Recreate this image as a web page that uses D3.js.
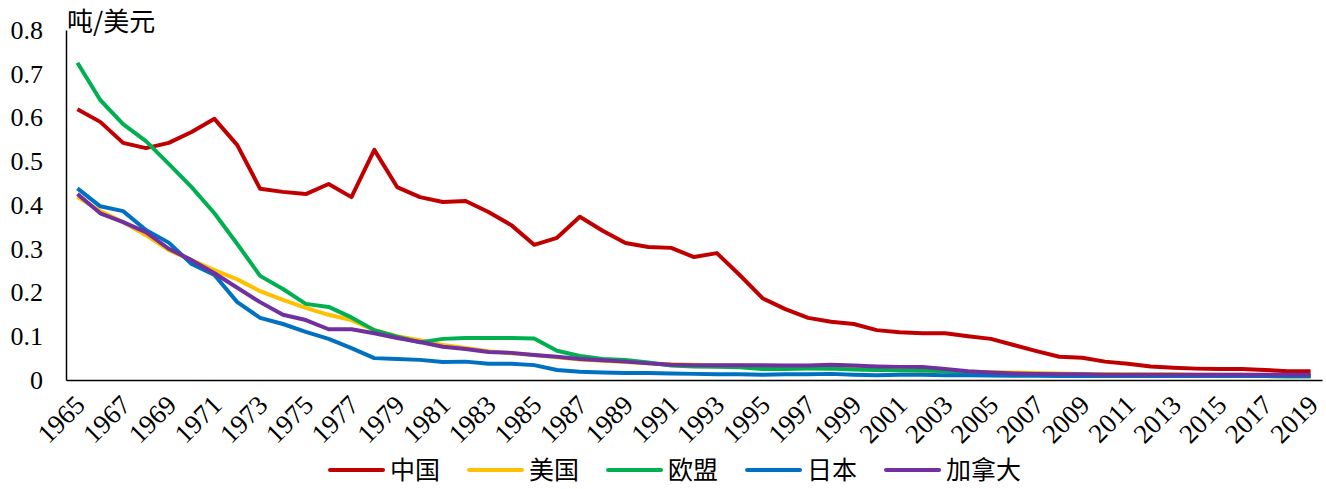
<!DOCTYPE html>
<html>
<head>
<meta charset="utf-8">
<script src="https://cdn.jsdelivr.net/npm/d3@7"></script>
<style>
  body { margin: 0; background: #fff; }
  .canvas svg { display: block; }
</style>
</head>
<body>
<div class="canvas"></div>
<script>
// data (吨/美元), 1965-2019
const years = d3.range(1965, 2020);
const yTicks = [0, 0.1, 0.2, 0.3, 0.4, 0.5, 0.6, 0.7, 0.8];
const seriesNames = ['中国', '美国', '欧盟', '日本', '加拿大'];

const china = [0.619, 0.59, 0.542, 0.53, 0.542, 0.567, 0.597, 0.537, 0.437, 0.43,
  0.425, 0.448, 0.418, 0.526, 0.441, 0.418, 0.407, 0.409, 0.384, 0.354,
  0.309, 0.325, 0.373, 0.341, 0.313, 0.304, 0.302, 0.281, 0.29, 0.24,
  0.187, 0.162, 0.142, 0.133, 0.128, 0.114, 0.109, 0.107, 0.107, 0.1,
  0.094, 0.08, 0.066, 0.053, 0.051, 0.042, 0.037, 0.031, 0.028, 0.026,
  0.025, 0.025, 0.023, 0.02, 0.02];
const usa = [0.419, 0.386, 0.361, 0.331, 0.297, 0.274, 0.251, 0.23, 0.203, 0.183,
  0.165, 0.149, 0.137, 0.114, 0.1, 0.091, 0.08, 0.073, 0.066, 0.061,
  0.057, 0.052, 0.047, 0.044, 0.041, 0.038, 0.036, 0.035, 0.034, 0.033,
  0.031, 0.03, 0.029, 0.028, 0.026, 0.024, 0.022, 0.021, 0.02, 0.019,
  0.018, 0.017, 0.016, 0.015, 0.014, 0.014, 0.013, 0.013, 0.013, 0.012,
  0.012, 0.012, 0.011, 0.011, 0.011];
const eu = [0.725, 0.64, 0.585, 0.546, 0.494, 0.441, 0.381, 0.311, 0.238, 0.208,
  0.174, 0.167, 0.143, 0.114, 0.099, 0.086, 0.094, 0.096, 0.096, 0.096,
  0.095, 0.067, 0.055, 0.048, 0.046, 0.04, 0.033, 0.031, 0.03, 0.029,
  0.025, 0.025, 0.026, 0.026, 0.024, 0.023, 0.022, 0.022, 0.02, 0.016,
  0.015, 0.014, 0.013, 0.012, 0.012, 0.011, 0.01, 0.01, 0.01, 0.009,
  0.009, 0.009, 0.009, 0.008, 0.008];
const japan = [0.438, 0.397, 0.386, 0.343, 0.314, 0.265, 0.24, 0.178, 0.142, 0.128,
  0.11, 0.094, 0.073, 0.05, 0.048, 0.046, 0.041, 0.042, 0.037, 0.037,
  0.034, 0.023, 0.019, 0.017, 0.016, 0.016, 0.015, 0.014, 0.013, 0.013,
  0.012, 0.013, 0.013, 0.014, 0.012, 0.011, 0.012, 0.012, 0.011, 0.011,
  0.01, 0.01, 0.01, 0.009, 0.009, 0.009, 0.009, 0.009, 0.009, 0.009,
  0.009, 0.009, 0.009, 0.009, 0.009];
const canada = [0.425, 0.381, 0.361, 0.338, 0.3, 0.274, 0.244, 0.211, 0.178, 0.149,
  0.137, 0.116, 0.116, 0.107, 0.096, 0.087, 0.076, 0.071, 0.064, 0.062,
  0.057, 0.053, 0.048, 0.045, 0.042, 0.038, 0.035, 0.034, 0.034, 0.034,
  0.034, 0.033, 0.033, 0.035, 0.033, 0.031, 0.03, 0.03, 0.025, 0.02,
  0.017, 0.015, 0.014, 0.013, 0.013, 0.012, 0.012, 0.012, 0.012, 0.012,
  0.012, 0.012, 0.012, 0.012, 0.012];

const seriesValues = [china, usa, eu, japan, canada];
const colors = ['#C00000', '#FFC000', '#00B050', '#0070C0', '#7030A0'];

const width = 1326;
const height = 489;
const margin = { top: 30, right: 4, bottom: 109, left: 66 };

const svg = d3.select('.canvas')
    .append('svg')
    .attr('width', width)
    .attr('height', height);

// scales
const x = d3.scalePoint()
    .domain(years)
    .range([margin.left, width - margin.right])
    .padding(0.5);
const y = d3.scaleLinear()
    .domain([0, 0.8])
    .range([height - margin.bottom, margin.top]);

// y axis
const yAxis = d3.axisLeft(y)
    .tickValues(yTicks)
    .tickSize(0)
    .tickSizeOuter(0)
    .tickPadding(23)
    .tickFormat(d => d === 0 ? '0' : d3.format('.1f')(d));

const yAxisGroup = svg.append('g')
    .attr('transform', `translate(${margin.left},0)`)
    .call(yAxis);
yAxisGroup.select('.domain').attr('stroke', '#000').attr('stroke-width', 1.5);
yAxisGroup.selectAll('text')
    .attr('font-family', '"Liberation Serif", "Times New Roman", serif')
    .attr('font-size', 26)
    .attr('fill', '#000');

// x axis
const xAxis = d3.axisBottom(x)
    .tickValues(years.filter(d => (d - 1965) % 2 === 0))
    .tickSize(0)
    .tickSizeOuter(0);

const xAxisGroup = svg.append('g')
    .attr('transform', `translate(0,${height - margin.bottom})`)
    .call(xAxis);
xAxisGroup.select('.domain').attr('stroke', '#000').attr('stroke-width', 1.5);
xAxisGroup.selectAll('text')
    .attr('font-family', '"Liberation Serif", "Times New Roman", serif')
    .attr('font-size', 27)
    .attr('fill', '#000')
    .attr('y', 0)
    .attr('dy', '0.35em')
    .attr('text-anchor', 'end')
    .attr('transform', 'translate(2,20) rotate(-45)');

// unit label
svg.append('text')
    .attr('x', margin.left + 1)
    .attr('y', 31)
    .attr('font-family', '"Noto Sans CJK SC", sans-serif')
    .attr('font-size', 26)
    .attr('fill', '#000')
    .text('吨/美元');

// lines
const line = d3.line()
    .x((d, i) => x(years[i]))
    .y(d => y(d));

svg.append('g')
    .selectAll('path')
    .data(seriesValues)
    .join('path')
    .attr('fill', 'none')
    .attr('stroke', (d, i) => colors[i])
    .attr('stroke-width', 4)
    .attr('stroke-linejoin', 'round')
    .attr('d', line);

// legend
const legend = svg.append('g').attr('transform', 'translate(330,470)');
let lx = 0;
seriesNames.forEach((name, i) => {
    const item = legend.append('g').attr('transform', `translate(${lx},0)`);
    item.append('line')
        .attr('x1', 0).attr('x2', 53)
        .attr('y1', 0).attr('y2', 0)
        .attr('stroke', colors[i])
        .attr('stroke-width', 4)
        .attr('stroke-linecap', 'round');
    const t = item.append('text')
        .attr('x', 60)
        .attr('dy', '0.35em')
        .attr('font-family', '"Noto Sans CJK SC", sans-serif')
        .attr('font-size', 25)
        .attr('fill', '#000')
        .text(name);
    lx += 60 + t.node().getComputedTextLength() + 29;
});
</script>
</body>
</html>
